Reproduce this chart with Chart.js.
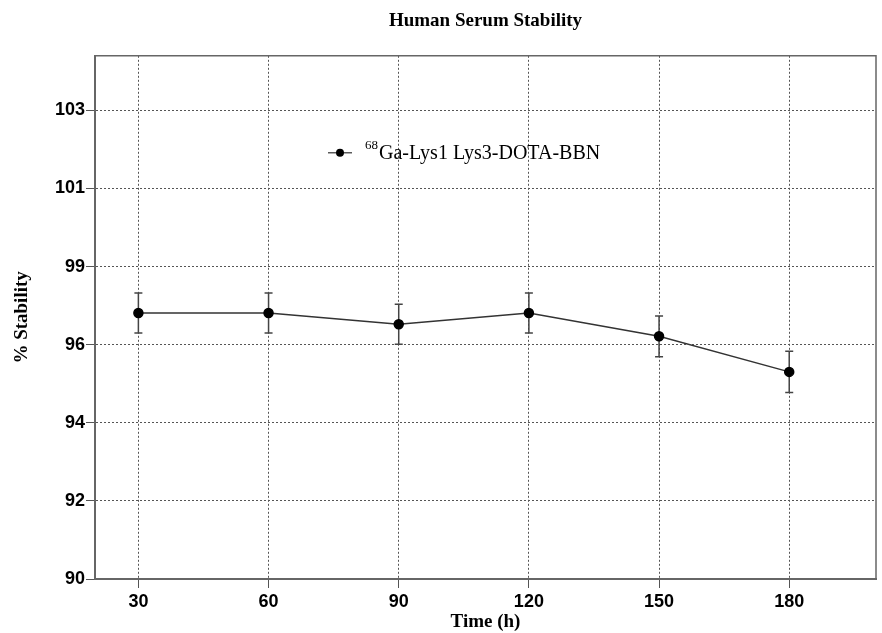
<!DOCTYPE html>
<html>
<head>
<meta charset="utf-8">
<script src="https://cdn.jsdelivr.net/npm/chart.js@4.4.0/dist/chart.umd.min.js"></script>
<style>
html, body { margin: 0; padding: 0; background: #fff; }
#wrap { width: 882px; height: 633px; }
</style>
</head>
<body>
<div id="wrap"><canvas id="myChart"></canvas></div>
<script>
// data
var timePoints = [30, 60, 90, 120, 150, 180];
var stability = [97.32, 97.32, 97.01, 97.32, 96.68, 95.70];
var stabilityErr = [0.55, 0.55, 0.55, 0.55, 0.56, 0.57];
var xTicks = [30, 60, 90, 120, 150, 180];
var yTickLabels = ['90', '92', '94', '96', '99', '101', '103'];
var yTickStep = 2.15;
var legendSup = '68';
var legendMain = 'Ga-Lys1 Lys3-DOTA-BBN';

var serif = '"Liberation Serif", "Times New Roman", serif';
var sans = '"Liberation Sans", Arial, sans-serif';

// error bars drawn through the scales
var errorBars = {
    id: 'errorBars',
    beforeDatasetsDraw: function(chart) {
        var ctx = chart.ctx;
        var xs = chart.scales.x, ys = chart.scales.y;
        ctx.save();
        ctx.strokeStyle = '#444';
        ctx.lineWidth = 1.5;
        timePoints.forEach(function(t, i) {
            var px = xs.getPixelForValue(t);
            var top = ys.getPixelForValue(stability[i] + stabilityErr[i]);
            var bot = ys.getPixelForValue(stability[i] - stabilityErr[i]);
            ctx.beginPath();
            ctx.moveTo(px, top); ctx.lineTo(px, bot);
            ctx.moveTo(px - 4, top); ctx.lineTo(px + 4, top);
            ctx.moveTo(px - 4, bot); ctx.lineTo(px + 4, bot);
            ctx.stroke();
        });
        ctx.restore();
    }
};

// frame on top/right plus the in-plot legend
var frameAndLegend = {
    id: 'frameAndLegend',
    afterDraw: function(chart) {
        var ctx = chart.ctx, a = chart.chartArea;
        ctx.save();
        ctx.strokeStyle = '#666';
        ctx.lineWidth = 1.5;
        ctx.beginPath();
        ctx.moveTo(a.left, a.top); ctx.lineTo(a.right, a.top); ctx.lineTo(a.right, a.bottom);
        ctx.stroke();

        var lx = a.left + 233, ly = a.top + 97;
        ctx.strokeStyle = '#333';
        ctx.lineWidth = 1.2;
        ctx.beginPath();
        ctx.moveTo(lx, ly); ctx.lineTo(lx + 24, ly);
        ctx.stroke();
        ctx.fillStyle = '#000';
        ctx.beginPath();
        ctx.arc(lx + 12, ly, 4, 0, Math.PI * 2);
        ctx.fill();
        ctx.textBaseline = 'alphabetic';
        ctx.font = '13px ' + serif;
        ctx.fillText(legendSup, lx + 37, ly - 4);
        var w = ctx.measureText(legendSup).width;
        ctx.font = '20px ' + serif;
        ctx.fillText(legendMain, lx + 38 + w, ly + 6);
        ctx.restore();
    }
};

var ctx = document.getElementById('myChart').getContext('2d');
window.myChart = new Chart(ctx, {
    type: 'line',
    data: {
        datasets: [{
            label: legendSup + legendMain,
            data: timePoints.map(function(t, i) { return { x: t, y: stability[i] }; }),
            borderColor: '#333',
            borderWidth: 1.5,
            pointRadius: 4.5,
            pointBackgroundColor: '#000',
            pointBorderColor: '#000',
            tension: 0
        }]
    },
    options: {
        responsive: true,
        maintainAspectRatio: false,
        animation: false,
        layout: { padding: { left: 0, right: 3, top: 0, bottom: 0 } },
        plugins: {
            legend: { display: false },
            tooltip: { enabled: false },
            title: {
                display: true,
                fullSize: false, // centre over the plot area, not the canvas
                text: 'Human Serum Stability',
                color: '#000',
                font: { family: serif, size: 19, weight: 'bold' },
                padding: { top: 10, bottom: 23 }
            }
        },
        scales: {
            x: {
                type: 'linear',
                min: 20,
                max: 200,
                afterBuildTicks: function(scale) {
                    scale.ticks = xTicks.map(function(v) { return { value: v }; });
                },
                afterFit: function(scale) { scale.height = 54; },
                grid: { color: '#555', lineWidth: 1, tickLength: 9, tickBorderDash: [] },
                border: { color: '#666', width: 2, dash: [2, 2] },
                ticks: { color: '#000', padding: 3, font: { family: sans, size: 18, weight: 'bold' }, maxRotation: 0, autoSkip: false },
                title: {
                    display: true,
                    text: 'Time (h)',
                    color: '#000',
                    font: { family: serif, size: 19, weight: 'bold' },
                    padding: { top: 0, bottom: 0 }
                }
            },
            y: {
                min: 90,
                max: 104.4,
                afterBuildTicks: function(scale) {
                    scale.ticks = yTickLabels.map(function(l, i) { return { value: 90 + i * yTickStep }; });
                },
                afterFit: function(scale) { scale.width = 95; },
                grid: { color: '#555', lineWidth: 1, tickLength: 9, tickBorderDash: [] },
                border: { color: '#666', width: 2, dash: [2, 2] },
                ticks: {
                    color: '#000',
                    padding: 1,
                    autoSkip: false,
                    font: { family: sans, size: 18, weight: 'bold' },
                    callback: function(v, i) { return yTickLabels[i]; }
                },
                title: {
                    display: true,
                    text: '% Stability',
                    color: '#000',
                    font: { family: serif, size: 19, weight: 'bold' },
                    padding: { top: 11, bottom: 0 }
                }
            }
        }
    },
    plugins: [errorBars, frameAndLegend]
});
</script>
</body>
</html>
